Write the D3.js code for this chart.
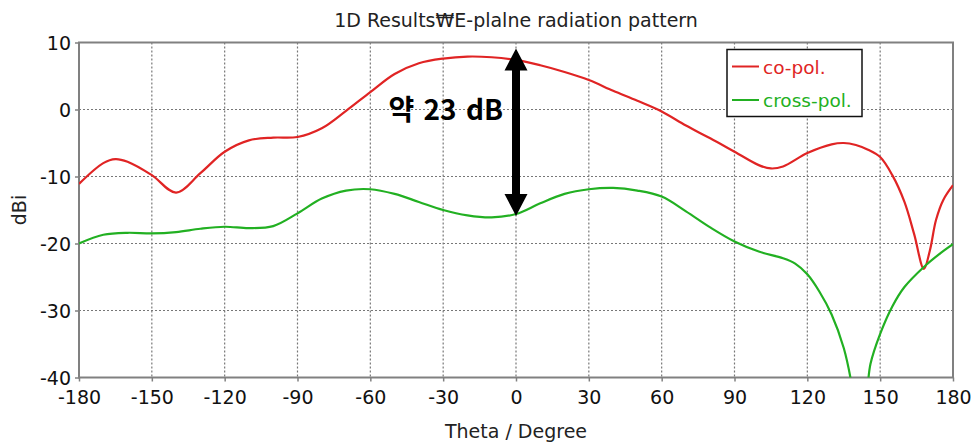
<!DOCTYPE html>
<html>
<head>
<meta charset="utf-8">
<script src="https://cdn.jsdelivr.net/npm/d3@7"></script>
<style>
  body { margin: 0; background: #fff; }
  svg text { font-family: "DejaVu Sans", Verdana, sans-serif; }
</style>
</head>
<body>
<div id="chart"></div>
<script>
const xTicks = [-180, -150, -120, -90, -60, -30, 0, 30, 60, 90, 120, 150, 180];
const yTicks = [10, 0, -10, -20, -30, -40];

const coTheta = [-180, -170, -165, -160, -150, -140, -130, -120, -110, -100, -90, -80, -70, -60, -50, -40, -30, -20, -10, 0, 10, 20, 30, 40, 50, 60, 70, 80, 90, 100, 105, 110, 120, 130, 135, 140, 145, 150, 155, 160, 164, 168, 170.5, 173, 176, 180];
const coDb = [-11.1, -8.0, -7.4, -7.8, -9.8, -12.4, -9.5, -6.3, -4.6, -4.2, -4.1, -2.8, -0.2, 2.6, 5.3, 6.9, 7.6, 7.9, 7.8, 7.4, 6.6, 5.6, 4.4, 2.8, 1.3, -0.3, -2.4, -4.3, -6.3, -8.3, -8.8, -8.5, -6.5, -5.2, -5.0, -5.3, -6.0, -7.1, -9.8, -13.8, -18.6, -23.8, -21.0, -16.5, -13.5, -11.3];

const crossTheta = [-180, -170, -160, -150, -140, -130, -120, -110, -100, -90, -80, -70, -60, -50, -40, -30, -20, -10, 0, 10, 20, 30, 40, 50, 60, 70, 80, 90, 100, 110, 115, 120, 125, 130, 135, 138, 141, 144, 146, 150, 155, 160, 168, 175, 180];
const crossDb = [-20.0, -18.7, -18.4, -18.5, -18.3, -17.8, -17.5, -17.7, -17.4, -15.5, -13.3, -12.1, -11.9, -12.6, -13.8, -15.0, -15.8, -16.1, -15.6, -14.0, -12.6, -11.9, -11.7, -12.1, -13.0, -15.2, -17.6, -19.7, -21.2, -22.2, -23.0, -24.6, -27.2, -30.6, -35.6, -40.5, -48.0, -44.0, -38.0, -33.5, -29.4, -26.5, -23.5, -21.4, -20.1];

const seriesNames = ["co-pol.", "cross-pol."];
const seriesColors = ["#e02424", "#22b022"];

const arrowTheta = 0;
const arrowTop = 9.1;
const arrowBottom = -15.9;
const noteText = "약 23 dB";

const W = 976, H = 447;
const margin = {top: 42.5, right: 23, bottom: 69.5, left: 79};
const width = W - margin.left - margin.right;
const height = H - margin.top - margin.bottom;

const svg = d3.select("#chart").append("svg")
    .attr("width", W)
    .attr("height", H);

const g = svg.append("g").attr("transform", `translate(${margin.left},${margin.top})`);

const x = d3.scaleLinear().domain([-180, 180]).range([0, width]);
const y = d3.scaleLinear().domain([-40, 10]).range([height, 0]);

// grid
g.append("g")
    .selectAll("line")
    .data(xTicks.slice(1, -1))
    .enter().append("line")
    .attr("x1", d => x(d)).attr("x2", d => x(d))
    .attr("y1", 0).attr("y2", height)
    .attr("stroke", "#777").attr("stroke-width", 1.2)
    .attr("stroke-dasharray", "2,2");

g.append("g")
    .selectAll("line")
    .data(yTicks.slice(1, -1))
    .enter().append("line")
    .attr("x1", 0).attr("x2", width)
    .attr("y1", d => y(d)).attr("y2", d => y(d))
    .attr("stroke", "#777").attr("stroke-width", 1.2)
    .attr("stroke-dasharray", "2,2");

// axes (plain hyphen minus like the original)
const fmt = d => String(d);
const xAxis = g.append("g")
    .attr("transform", `translate(0,${height})`)
    .call(d3.axisBottom(x).tickValues(xTicks).tickFormat(fmt).tickSize(4).tickPadding(9).tickSizeOuter(0));
const yAxis = g.append("g")
    .call(d3.axisLeft(y).tickValues(yTicks).tickFormat(fmt).tickSize(4).tickPadding(4).tickSizeOuter(0));

[xAxis, yAxis].forEach(a => {
    a.select(".domain").remove();
    a.selectAll("line").attr("stroke", "#808080").attr("stroke-width", 1.5);
    a.selectAll("text").attr("fill", "#111").style("font-size", "19px");
});
yAxis.selectAll("text").attr("dy", "0.36em");

// frame
g.append("rect")
    .attr("x", 0).attr("y", 0)
    .attr("width", width).attr("height", height)
    .attr("fill", "none")
    .attr("stroke", "#808080")
    .attr("stroke-width", 2);

// curves
svg.append("defs").append("clipPath").attr("id", "clip")
    .append("rect").attr("width", width).attr("height", height);

const line = d3.line()
    .x(d => x(d[0]))
    .y(d => y(d[1]))
    .curve(d3.curveCatmullRom.alpha(0.5));

const series = [
    d3.zip(coTheta, coDb),
    d3.zip(crossTheta, crossDb)
];

series.forEach((s, i) => {
    g.append("path")
        .datum(s)
        .attr("clip-path", "url(#clip)")
        .attr("fill", "none")
        .attr("stroke", seriesColors[i])
        .attr("stroke-width", 2.2)
        .attr("d", line);
});

// arrow
const ax = x(arrowTheta);
const yTop = y(arrowTop), yBot = y(arrowBottom);
const headH = 22, headW = 11.5, shaft = 4;
g.append("path")
    .attr("fill", "#000")
    .attr("d", `M${ax},${yTop} L${ax + headW},${yTop + headH} L${ax + shaft},${yTop + headH}
                L${ax + shaft},${yBot - headH} L${ax + headW},${yBot - headH} L${ax},${yBot}
                L${ax - headW},${yBot - headH} L${ax - shaft},${yBot - headH}
                L${ax - shaft},${yTop + headH} L${ax - headW},${yTop + headH} Z`);

g.append("text")
    .attr("x", ax - 13)
    .attr("y", y(0) + 10)
    .attr("text-anchor", "end")
    .style("font-family", "'Noto Sans CJK KR', sans-serif")
    .style("font-weight", "bold")
    .style("font-size", "28px")
    .style("word-spacing", "3px")
    .attr("fill", "#000")
    .text(noteText);

// legend
const lg = svg.append("g").attr("transform", "translate(727,49.5)");
lg.append("rect")
    .attr("width", 135).attr("height", 67)
    .attr("fill", "#fff")
    .attr("stroke", "#111")
    .attr("stroke-width", 1.5);
seriesNames.forEach((n, i) => {
    const ly = 17 + i * 33.5;
    lg.append("line")
        .attr("x1", 5).attr("x2", 32)
        .attr("y1", ly).attr("y2", ly)
        .attr("stroke", seriesColors[i]).attr("stroke-width", 2);
    lg.append("text")
        .attr("x", 36).attr("y", ly + 7)
        .attr("fill", seriesColors[i])
        .style("font-size", "18.5px")
        .text(n);
});

// titles
svg.append("text")
    .attr("x", margin.left + width / 2)
    .attr("y", 27)
    .attr("text-anchor", "middle")
    .attr("fill", "#222")
    .style("font-size", "19px")
    .text("1D Results₩E-plalne radiation pattern");

svg.append("text")
    .attr("x", margin.left + width / 2)
    .attr("y", 438)
    .attr("text-anchor", "middle")
    .attr("fill", "#222")
    .style("font-size", "19px")
    .text("Theta / Degree");

svg.append("text")
    .attr("transform", `translate(26,${margin.top + height / 2}) rotate(-90)`)
    .attr("text-anchor", "middle")
    .attr("fill", "#222")
    .style("font-size", "19px")
    .text("dBi");
</script>
</body>
</html>
